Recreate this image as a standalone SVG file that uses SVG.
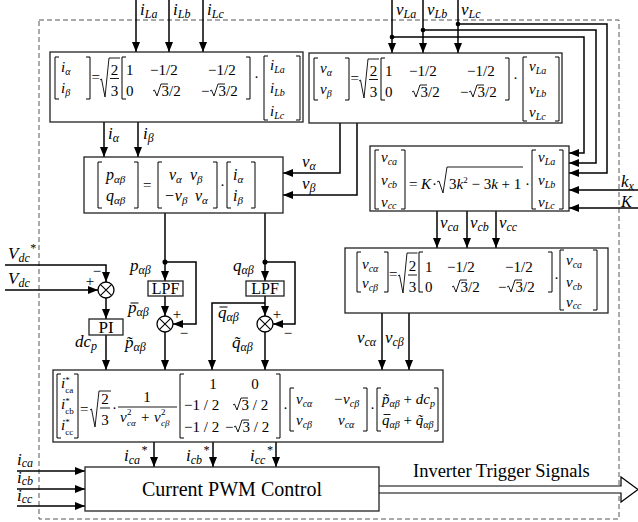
<svg xmlns="http://www.w3.org/2000/svg" width="638" height="522" viewBox="0 0 638 522">
<defs>
<marker id="ah" markerUnits="userSpaceOnUse" markerWidth="10" markerHeight="8" refX="10" refY="4" orient="auto" viewBox="0 0 10 8"><path d="M0,0 L10,4 L0,8 z" fill="#000"/></marker>
</defs>
<style>
text{font-family:"Liberation Serif","Times New Roman",serif;fill:#000}
.n{font-size:15px;font-style:normal}
.e{font-size:15px;font-style:italic}
.e16{font-size:16px;font-style:italic}
.s{font-size:10px;font-style:italic}
.s11{font-size:11px;font-style:italic}
.s9{font-size:9px;font-style:normal}
.l{font-size:17px;font-style:italic}
.ls{font-size:12px;font-style:italic}
.box{fill:#fff;stroke:#222;stroke-width:1.3}
.br{fill:none;stroke:#000;stroke-width:1}
.rad{fill:none;stroke:#000;stroke-width:0.9}
.w{fill:none;stroke:#000;stroke-width:1.5}
.a{marker-end:url(#ah)}
.dot{fill:#000}
.sum{fill:#fff;stroke:#000;stroke-width:1.3}
.ttl{font-size:15px;font-style:normal}
</style>
<rect id="frame" x="39" y="20" width="580" height="499" fill="none" stroke="#555" stroke-width="1" stroke-dasharray="5,3"/>

<g id="connectors" class="w">
<path class="a" d="M136,0V52"/><path class="a" d="M169,0V52"/><path class="a" d="M203,0V52"/>
<path class="a" d="M392,0V53"/><path class="a" d="M423,0V53"/><path class="a" d="M458,0V53"/>
<path class="a" d="M392,37H584V153H569"/><path class="a" d="M423,30H596V163H569"/><path class="a" d="M458,24H607V173H569"/>
<path class="a" d="M638,190H569"/><path class="a" d="M638,208H569"/>
<path class="a" d="M104,122V157"/><path class="a" d="M138,122V157"/>
<path class="a" d="M340,123V173H283"/><path class="a" d="M357,123V195H283"/>
<path class="a" d="M165,213V281"/><path class="a" d="M165,296V316"/><path class="a" d="M165,332V370"/><path class="a" d="M165,262H196V324H173"/>
<path class="a" d="M265,213V281"/><path class="a" d="M265,296V316"/><path class="a" d="M265,332V370"/><path class="a" d="M265,262H295V324H273"/><path class="a" d="M265,303H212V370"/>
<path class="a" d="M5,265H106V282"/><path class="a" d="M5,290H98"/><path class="a" d="M106,298V319"/><path class="a" d="M106,335V370"/>
<path class="a" d="M437,211V248"/><path class="a" d="M467,211V248"/><path class="a" d="M496,211V248"/>
<path class="a" d="M382,313V370"/><path class="a" d="M409,313V370"/>
<path class="a" d="M154,442V467"/><path class="a" d="M213,442V467"/><path class="a" d="M276,442V467"/>
<path class="a" d="M17,471H85"/><path class="a" d="M17,489H85"/><path class="a" d="M17,506H85"/>
<path d="M379,486H621V477L638,489.5L621,502V493H379" fill="#fff" stroke="#000" stroke-width="1.2"/>
<circle class="dot" cx="392" cy="37" r="1.6"/><circle class="dot" cx="423" cy="30" r="1.6"/><circle class="dot" cx="458" cy="24" r="1.6"/>
<circle class="dot" cx="165" cy="262" r="1.8"/><circle class="dot" cx="265" cy="262" r="1.8"/>
</g>

<g id="labels">
<text class="l" x="140" y="15">i<tspan class="ls" dy="3">La</tspan></text>
<text class="l" x="173" y="15">i<tspan class="ls" dy="3">Lb</tspan></text>
<text class="l" x="207" y="15">i<tspan class="ls" dy="3">Lc</tspan></text>
<text class="l" x="396" y="15">v<tspan class="ls" dy="3">La</tspan></text>
<text class="l" x="427" y="15">v<tspan class="ls" dy="3">Lb</tspan></text>
<text class="l" x="461" y="15">v<tspan class="ls" dy="3">Lc</tspan></text>
<text class="l" x="108" y="139">i<tspan class="ls" dy="3">α</tspan></text>
<text class="l" x="143" y="139">i<tspan class="ls" dy="3">β</tspan></text>
<text class="l" x="302" y="167">v<tspan class="ls" dy="3">α</tspan></text>
<text class="l" x="302" y="189">v<tspan class="ls" dy="3">β</tspan></text>
<text class="l" x="621" y="187">k<tspan class="ls" dy="3">x</tspan></text>
<text class="l" x="621" y="207" style="font-size:16px">K</text>
<text class="l" x="440" y="228">v<tspan class="ls" dy="3">ca</tspan></text>
<text class="l" x="470" y="228">v<tspan class="ls" dy="3">cb</tspan></text>
<text class="l" x="499" y="228">v<tspan class="ls" dy="3">cc</tspan></text>
<text class="l" x="357" y="343">v<tspan class="ls" dy="3">cα</tspan></text>
<text class="l" x="385" y="343">v<tspan class="ls" dy="3">cβ</tspan></text>
<text class="l" x="8" y="259">V<tspan class="ls" dy="3">dc</tspan><tspan class="ls" dy="-10">*</tspan></text>
<text class="l" x="8" y="284">V<tspan class="ls" dy="3">dc</tspan></text>
<text class="ttl" x="97" y="276" text-anchor="middle">−</text>
<text class="ttl" x="90" y="286" text-anchor="middle">+</text>
<text class="l" x="130" y="271">p<tspan class="ls" dy="3">αβ</tspan></text>
<text class="l" x="128" y="313">p<tspan class="ls" dy="3">αβ</tspan></text>
<path d="M130.5,303H138.5" stroke="#000" stroke-width="1"/>
<text class="l" x="125" y="348">p&#x303;<tspan class="ls" dy="3">αβ</tspan></text>
<text class="l" x="75" y="347">dc<tspan class="ls" dy="3">p</tspan></text>
<text class="l" x="233" y="271">q<tspan class="ls" dy="3">αβ</tspan></text>
<text class="l" x="218" y="318">q<tspan class="ls" dy="3">αβ</tspan></text>
<path d="M219.5,307H227.5" stroke="#000" stroke-width="1"/>
<text class="l" x="232" y="348">q&#x303;<tspan class="ls" dy="3">αβ</tspan></text>
<text class="ttl" x="177" y="319" text-anchor="middle">+</text>
<text class="ttl" x="184" y="338" text-anchor="middle">−</text>
<text class="ttl" x="277" y="319" text-anchor="middle">+</text>
<text class="ttl" x="288" y="338" text-anchor="middle">−</text>
<text class="l" x="124" y="461">i<tspan class="ls" dy="3">ca</tspan><tspan class="ls" dx="1" dy="-10">*</tspan></text>
<text class="l" x="186" y="461">i<tspan class="ls" dy="3">cb</tspan><tspan class="ls" dx="1" dy="-10">*</tspan></text>
<text class="l" x="250" y="461">i<tspan class="ls" dy="3">cc</tspan><tspan class="ls" dx="1" dy="-10">*</tspan></text>
<text class="l" x="17" y="465">i<tspan class="ls" dy="2">ca</tspan></text>
<text class="l" x="17" y="483">i<tspan class="ls" dy="2">cb</tspan></text>
<text class="l" x="17" y="501">i<tspan class="ls" dy="2">cc</tspan></text>
<text x="413" y="477" style="font-size:18.5px">Inverter Trigger Signals</text>
</g>

<g id="n_itrans">
<rect class="box" x="50" y="52" width="253" height="70"/>
<path class="br" d="M59,57H55V99H59M86,57H90V99H86M126,57H122V99H126M246,57H250V99H246M268,56H264V120H268M296,56H300V120H296"/>
<path class="rad" d="M100,80L101.5,79L105,97L109,58H120M110,78.5H119M153,91L154.5,90L157,96L161,84H168M210,91L211.5,90L214,96L218,84H225"/>
<text class="e" x="61" y="72">i<tspan class="s" dy="3">α</tspan></text>
<text class="e" x="61" y="93">i<tspan class="s" dy="3">β</tspan></text>
<text class="n" x="91.5" y="82">=</text>
<text class="n" x="114.5" y="75" text-anchor="middle">2</text>
<text class="n" x="114.5" y="96" text-anchor="middle">3</text>
<text class="n" x="126" y="75">1</text>
<text class="n" x="150" y="75">−1/2</text>
<text class="n" x="208" y="75">−1/2</text>
<text class="n" x="126" y="96">0</text>
<text class="n" x="161.5" y="96">3/2</text>
<text class="n" x="201" y="96">−</text>
<text class="n" x="218.5" y="96">3/2</text>
<text class="n" x="254" y="82">·</text>
<text class="e" x="270" y="70">i<tspan class="s" dy="3">La</tspan></text>
<text class="e" x="270" y="93">i<tspan class="s" dy="3">Lb</tspan></text>
<text class="e" x="270" y="116">i<tspan class="s" dy="3">Lc</tspan></text>
</g>

<g id="n_vtrans" transform="translate(259,1)">
<rect class="box" x="50" y="52" width="253" height="70"/>
<path class="br" d="M59,57H55V99H59M86,57H90V99H86M126,57H122V99H126M246,57H250V99H246M268,56H264V120H268M296,56H300V120H296"/>
<path class="rad" d="M100,80L101.5,79L105,97L109,58H120M110,78.5H119M153,91L154.5,90L157,96L161,84H168M210,91L211.5,90L214,96L218,84H225"/>
<text class="e" x="61" y="72">v<tspan class="s" dy="3">α</tspan></text>
<text class="e" x="61" y="93">v<tspan class="s" dy="3">β</tspan></text>
<text class="n" x="91.5" y="82">=</text>
<text class="n" x="114.5" y="75" text-anchor="middle">2</text>
<text class="n" x="114.5" y="96" text-anchor="middle">3</text>
<text class="n" x="126" y="75">1</text>
<text class="n" x="150" y="75">−1/2</text>
<text class="n" x="208" y="75">−1/2</text>
<text class="n" x="126" y="96">0</text>
<text class="n" x="161.5" y="96">3/2</text>
<text class="n" x="201" y="96">−</text>
<text class="n" x="218.5" y="96">3/2</text>
<text class="n" x="254" y="82">·</text>
<text class="e" x="270" y="70">v<tspan class="s" dy="3">La</tspan></text>
<text class="e" x="270" y="93">v<tspan class="s" dy="3">Lb</tspan></text>
<text class="e" x="270" y="116">v<tspan class="s" dy="3">Lc</tspan></text>
</g>

<g id="n_pq">
<rect class="box" x="84" y="157" width="199" height="56"/>
<path class="br" d="M102,162H98V208H102M134,162H138V208H134M162,162H158V208H162M213,162H217V208H213M231,162H227V208H231M251,162H255V208H251"/>
<text class="e16" x="106" y="180">p<tspan class="s11" dy="3">αβ</tspan></text>
<text class="e16" x="106" y="201">q<tspan class="s11" dy="3">αβ</tspan></text>
<text class="n" x="143" y="190">=</text>
<text class="e16" x="169" y="180">v<tspan class="s11" dy="3">α</tspan></text>
<text class="e16" x="190" y="180">v<tspan class="s11" dy="3">β</tspan></text>
<text class="e16" x="164" y="201">−v<tspan class="s11" dy="3">β</tspan></text>
<text class="e16" x="195" y="201">v<tspan class="s11" dy="3">α</tspan></text>
<text class="n" x="220" y="190">·</text>
<text class="e16" x="233" y="180">i<tspan class="s11" dy="3">α</tspan></text>
<text class="e16" x="233" y="201">i<tspan class="s11" dy="3">β</tspan></text>
</g>

<g id="n_kbox">
<rect class="box" x="370" y="146" width="199" height="65"/>
<path class="br" d="M379,150H375V209H379M401,150H405V209H401M536,150H532V209H536M559,150H563V209H559"/>
<path class="rad" d="M437,182L439,181L443,193L447,167H523"/>
<text class="e" x="381" y="162">v<tspan class="s" dy="3">ca</tspan></text>
<text class="e" x="381" y="185">v<tspan class="s" dy="3">cb</tspan></text>
<text class="e" x="381" y="207">v<tspan class="s" dy="2">cc</tspan></text>
<text class="n" x="409" y="189">=</text>
<text class="e" x="421" y="189">K</text>
<text class="n" x="432" y="189">·</text>
<text class="n" x="449" y="189">3<tspan class="e">k</tspan><tspan style="font-size:9px" dy="-6">2</tspan><tspan dy="6"> − 3</tspan><tspan class="e">k</tspan> + 1</text>
<text class="n" x="525" y="189">·</text>
<text class="e" x="538" y="162">v<tspan class="s" dy="3">La</tspan></text>
<text class="e" x="538" y="185">v<tspan class="s" dy="3">Lb</tspan></text>
<text class="e" x="538" y="207">v<tspan class="s" dy="2">Lc</tspan></text>
</g>

<g id="n_vc">
<rect class="box" x="345" y="248" width="263" height="65"/>
<path class="br" d="M361,252H357V292H361M384,252H388V292H384M423,252H419V292H423M548,252H552V292H548M564,250H560V310H564M593,250H597V310H593"/>
<path class="rad" d="M398,276L399.5,275L403,293L407,253H417.5M408,275H417M452,287L453.5,286L456,292L460,280H467M507,287L508.5,286L511,292L515,280H522"/>
<text class="e" x="362" y="269">v<tspan class="s" dy="3">cα</tspan></text>
<text class="e" x="362" y="288">v<tspan class="s" dy="3">cβ</tspan></text>
<text class="n" x="389" y="279">=</text>
<text class="n" x="412.5" y="271" text-anchor="middle">2</text>
<text class="n" x="412.5" y="292" text-anchor="middle">3</text>
<text class="n" x="425" y="272">1</text>
<text class="n" x="447" y="272">−1/2</text>
<text class="n" x="505" y="272">−1/2</text>
<text class="n" x="425" y="292">0</text>
<text class="n" x="460.5" y="292">3/2</text>
<text class="n" x="498" y="292">−</text>
<text class="n" x="515.5" y="292">3/2</text>
<text class="n" x="554" y="283">·</text>
<text class="e" x="566" y="265">v<tspan class="s" dy="3">ca</tspan></text>
<text class="e" x="566" y="287">v<tspan class="s" dy="3">cb</tspan></text>
<text class="e" x="566" y="307">v<tspan class="s" dy="2">cc</tspan></text>
</g>

<g id="n_lpf_p"><rect class="box" x="148" y="281" width="35" height="15"/><text class="ttl" x="165.5" y="294" text-anchor="middle" style="font-size:16px">LPF</text></g>
<g id="n_lpf_q"><rect class="box" x="246" y="281" width="38" height="15"/><text class="ttl" x="265" y="294" text-anchor="middle" style="font-size:16px">LPF</text></g>
<g id="n_sum_dc"><circle class="sum" cx="106" cy="290" r="8"/><path d="M100.3,284.3L111.7,295.7M111.7,284.3L100.3,295.7" stroke="#000" stroke-width="1.1"/></g>
<g id="n_sum_p"><circle class="sum" cx="165" cy="324" r="8"/><path d="M159.3,318.3L170.7,329.7M170.7,318.3L159.3,329.7" stroke="#000" stroke-width="1.1"/></g>
<g id="n_sum_q"><circle class="sum" cx="265" cy="324" r="8"/><path d="M259.3,318.3L270.7,329.7M270.7,318.3L259.3,329.7" stroke="#000" stroke-width="1.1"/></g>
<g id="n_pi"><rect class="box" x="89" y="319" width="34" height="16"/><text class="ttl" x="106" y="332.5" text-anchor="middle" style="font-size:17px">PI</text></g>

<g id="n_iref">
<rect class="box" x="53" y="370" width="390" height="72"/>
<path class="br" d="M61,374H57V438H61M74,374H78V438H74M184,374H180V438H184M276,374H280V438H276M294,388H290V431H294M363,388H367V431H363M381,388H377V431H381M434,388H438V431H434"/>
<path class="rad" d="M90,410L91.5,409L95,427L99,391H111M100,408H110M118,407H177M233,405L234.5,404L237,410L241,398H248M234,427L235.5,426L238,432L242,420H249M383.5,414.5H390.5"/>
<text class="e" x="61" y="388">i<tspan class="s9" dy="-5">*</tspan><tspan class="s9" dx="-4.5" dy="10">ca</tspan></text>
<text class="e" x="61" y="409">i<tspan class="s9" dy="-5">*</tspan><tspan class="s9" dx="-4.5" dy="10">cb</tspan></text>
<text class="e" x="61" y="430">i<tspan class="s9" dy="-5">*</tspan><tspan class="s9" dx="-4.5" dy="10">cc</tspan></text>
<text class="n" x="80" y="414">=</text>
<text class="n" x="105" y="404" text-anchor="middle">2</text>
<text class="n" x="105" y="425" text-anchor="middle">3</text>
<text class="n" x="112" y="413">·</text>
<text class="n" x="147" y="402" text-anchor="middle">1</text>
<text class="e" x="120" y="422">v</text><text class="n" x="127" y="415" style="font-size:9px">2</text><text class="s" x="127" y="426" style="font-size:9px">cα</text>
<text class="n" x="141" y="422">+</text>
<text class="e" x="154" y="422">v</text><text class="n" x="161" y="415" style="font-size:9px">2</text><text class="s" x="161" y="426" style="font-size:9px">cβ</text>
<text class="n" x="213" y="389" text-anchor="middle">1</text>
<text class="n" x="255" y="389" text-anchor="middle">0</text>
<text class="n" x="184" y="410">−1 / 2</text>
<text class="n" x="241.5" y="410">3 / 2</text>
<text class="n" x="184" y="432">−1 / 2</text>
<text class="n" x="225" y="432">−</text>
<text class="n" x="242.5" y="432">3 / 2</text>
<text class="n" x="283" y="413">·</text>
<text class="e" x="296" y="404">v<tspan class="s" dy="3">cα</tspan></text>
<text class="e" x="333" y="404">−v<tspan class="s" dy="3">cβ</tspan></text>
<text class="e" x="296" y="425">v<tspan class="s" dy="3">cβ</tspan></text>
<text class="e" x="338" y="425">v<tspan class="s" dy="3">cα</tspan></text>
<text class="n" x="370" y="413">·</text>
<text class="e" x="382" y="404">p&#x303;<tspan class="s" dy="3">αβ</tspan><tspan class="n" dy="-3"> + </tspan>dc<tspan class="s" dy="3">p</tspan></text>
<text class="e" x="382" y="425">q<tspan class="s" dy="3">αβ</tspan><tspan class="n" dy="-3"> + </tspan>q&#x303;<tspan class="s" dy="3">αβ</tspan></text>
</g>

<g id="n_pwm">
<rect class="box" x="85" y="467" width="294" height="44"/>
<text class="ttl" x="232" y="496" text-anchor="middle" style="font-size:20px">Current PWM Control</text>
</g>
</svg>
